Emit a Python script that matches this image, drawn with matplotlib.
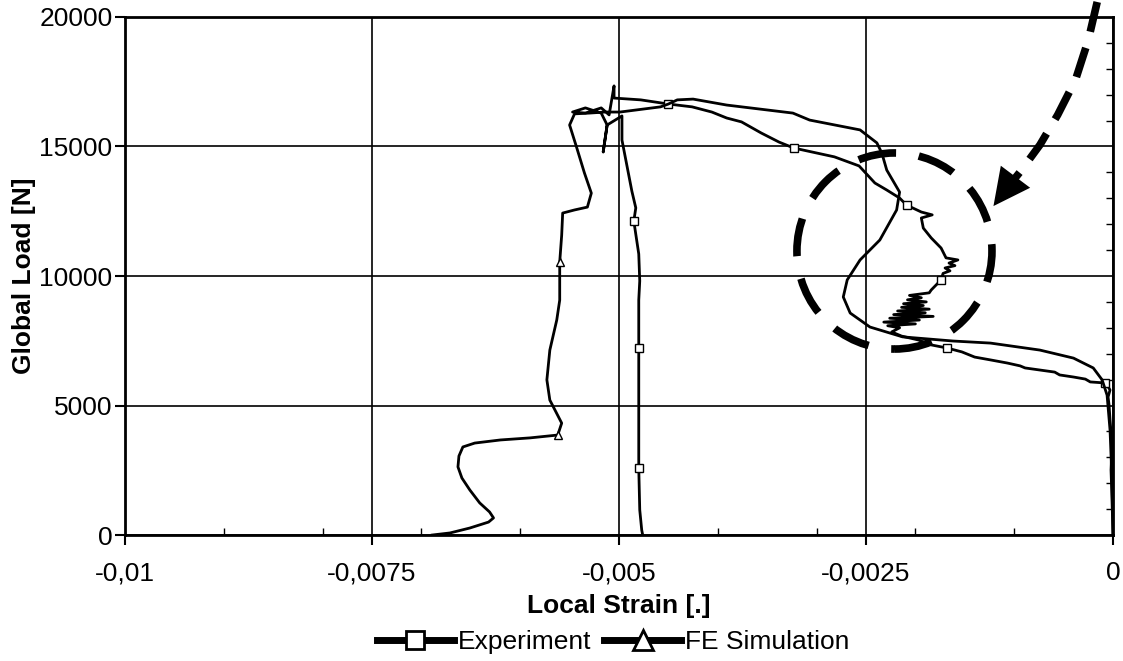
import matplotlib
matplotlib.use("Agg")
import matplotlib.pyplot as plt
from matplotlib.lines import Line2D
from matplotlib.patches import Ellipse
from matplotlib.ticker import MultipleLocator

plt.rcParams['font.family'] = ['Liberation Sans', 'DejaVu Sans']

# experiment: load path (strain, load)
exp_strain = [0.0, -0.00001, -0.00002, -0.00001, -0.00003, -0.00004, -0.00005, -0.00003,
              -0.00006, -0.00008, -0.00023, -0.00028, -0.00040, -0.00054, -0.00059, -0.00074,
              -0.00089, -0.00094, -0.00107, -0.00124, -0.00140, -0.00153, -0.00168, -0.00184,
              -0.00197, -0.00214, -0.00224, -0.00216, -0.00228, -0.00200, -0.00232, -0.00196,
              -0.00226, -0.00182, -0.00222, -0.00190, -0.00218, -0.00186, -0.00214, -0.00192,
              -0.00212, -0.00189, -0.00208, -0.00194, -0.00206, -0.00186, -0.00184, -0.00174,
              -0.00172, -0.00165, -0.00170, -0.00160, -0.00166, -0.00157, -0.00169, -0.00174,
              -0.00184, -0.00192, -0.00194, -0.00183, -0.00194, -0.00209, -0.00216, -0.00229,
              -0.00241, -0.00257, -0.00282, -0.00323, -0.00338, -0.00356, -0.00376, -0.00391,
              -0.00406, -0.00426, -0.00450, -0.00478, -0.00505, -0.00505, -0.00510, -0.00518,
              -0.00534, -0.00547, -0.00534, -0.00518, -0.00512, -0.00516, -0.00512, -0.00497,
              -0.00497, -0.00487, -0.00483, -0.00485, -0.00480, -0.00479, -0.00480, -0.00480,
              -0.00480, -0.00480, -0.00479, -0.00477, -0.00476]
exp_load = [0, 1350, 2510, 3480, 4440, 5020, 5330, 5600,
            5790, 5870, 5910, 6020, 6100, 6180, 6290, 6370,
            6450, 6530, 6640, 6760, 6870, 7070, 7220, 7340,
            7530, 7680, 7840, 8000, 8080, 8150, 8220, 8300,
            8370, 8440, 8510, 8580, 8650, 8720, 8790, 8860,
            8930, 9000, 9080, 9160, 9250, 9350, 9460, 9850,
            10100, 10200, 10310, 10400, 10500, 10620, 10700, 11080,
            11470, 11850, 12240, 12360, 12470, 12740, 13010, 13320,
            13590, 14250, 14600, 14940, 15170, 15520, 15950, 16100,
            16330, 16530, 16640, 16800, 16870, 17340, 16220, 16490,
            16290, 16330, 16490, 16290, 15830, 14790, 15830, 16180,
            15250, 13280, 12630, 12120, 10850, 9810, 9070, 7220,
            5170, 2590, 970, 190, 0]
exp_marks = [9, 22, 47, 61, 67, 74, 91, 95, 97]

# FE simulation
fe_strain = [0.0, -0.00001, -0.00003, -0.00006, -0.00011, -0.00020, -0.00040, -0.00074,
             -0.00124, -0.00162, -0.00213, -0.00246, -0.00266, -0.00273, -0.00269, -0.00256,
             -0.00236, -0.00219, -0.00216, -0.00229, -0.00234, -0.00239, -0.00256, -0.00307,
             -0.00324, -0.00391, -0.00425, -0.00441, -0.00450, -0.00458, -0.00499, -0.00514,
             -0.00530, -0.00545, -0.00550, -0.00543, -0.00535, -0.00528, -0.00532, -0.00545,
             -0.00557, -0.00558, -0.00560, -0.00560, -0.00563, -0.00570, -0.00573, -0.00570,
             -0.00558, -0.00562, -0.00590, -0.00620, -0.00646, -0.00658, -0.00662, -0.00663,
             -0.00659, -0.00651, -0.00641, -0.00631, -0.00627, -0.00632, -0.00651, -0.00671,
             -0.00689]
fe_load = [0, 2120, 4050, 5400, 5990, 6450, 6830, 7140,
           7410, 7490, 7650, 8030, 8570, 9190, 9850, 10620,
           11390, 12550, 13240, 14090, 14750, 15140, 15640, 16020,
           16290, 16600, 16830, 16800, 16640, 16530, 16330, 16330,
           16290, 16260, 15830, 14980, 13980, 13200, 12660, 12550,
           12430, 11580, 10540, 9070, 8300, 7140, 5990, 5210,
           4320, 3860, 3750, 3670, 3550, 3400, 3050, 2630,
           2200, 1740, 1240, 890, 660, 500, 270, 80,
           0]
fe_marks = [42, 49]

x_ticks = [-0.01, -0.0075, -0.005, -0.0025, 0]
x_tick_labels = ['-0,01', '-0,0075', '-0,005', '-0,0025', '0']
y_ticks = [0, 5000, 10000, 15000, 20000]

# annotation: dashed circle and dashed arrow
circle_center = (-0.002212, 10965)
circle_size = (0.001974, 7570)
arrow_x = [-0.00016, -0.00025, -0.00038, -0.00056, -0.00074, -0.00094, -0.00108]
arrow_y = [20580, 19110, 17570, 16220, 15060, 14020, 13360]
arrow_tip = (-0.00121, 12700)


fig = plt.figure(figsize=(11.23, 6.61), dpi=100)
ax = fig.add_axes([0.1113, 0.1906, 0.8798, 0.7837])

ax.plot(exp_strain, exp_load, color='black', lw=2.0, marker='s', markersize=6,
        markerfacecolor='white', markeredgecolor='black', markeredgewidth=1.0,
        markevery=exp_marks, zorder=3)
ax.plot(fe_strain, fe_load, color='black', lw=2.0, marker='^', markersize=6,
        markerfacecolor='white', markeredgecolor='black', markeredgewidth=1.0,
        markevery=fe_marks, zorder=3)

ell = Ellipse(circle_center, circle_size[0], circle_size[1], fill=False,
              edgecolor='black', lw=5.5, linestyle=(0, (5, 3)), zorder=4)
ax.add_patch(ell)

ax.plot(arrow_x, arrow_y, color='black', lw=5.5, linestyle=(0, (4, 2.2)),
        clip_on=False, zorder=4)
ax.annotate('', xy=arrow_tip, xytext=(arrow_x[-1], arrow_y[-1]),
            arrowprops=dict(arrowstyle='-|>,head_length=1.2,head_width=0.6',
                            color='black', lw=0, mutation_scale=22,
                            shrinkA=0, shrinkB=0),
            annotation_clip=False, zorder=4)

ax.set_xlim(-0.01, 0)
ax.set_ylim(0, 20000)
ax.set_xticks(x_ticks)
ax.set_xticklabels(x_tick_labels)
ax.set_yticks(y_ticks)
ax.xaxis.set_minor_locator(MultipleLocator(0.001))
ax.yaxis.set_minor_locator(MultipleLocator(1000))

ax.grid(True, which='major', color='black', lw=1.2)
ax.tick_params(which='major', labelsize=19, length=7, width=1.5, color='black')
ax.tick_params(axis='x', which='major', pad=12)
ax.tick_params(axis='y', which='major', pad=2)
ax.tick_params(axis='x', which='minor', direction='in', length=5, width=1, top=False)
ax.tick_params(axis='y', which='minor', direction='in', length=5, width=1,
               left=False, right=True)

for s in ax.spines.values():
    s.set_linewidth(2)
    s.set_color('black')

ax.set_xlabel('Local Strain [.]', fontsize=19, fontweight='bold', labelpad=6)
ax.set_ylabel('Global Load [N]', fontsize=19, fontweight='bold', labelpad=2)

handles = [
    Line2D([], [], color='black', lw=5, marker='s', markersize=13,
           markerfacecolor='white', markeredgecolor='black', markeredgewidth=2),
    Line2D([], [], color='black', lw=5, marker='^', markersize=14,
           markerfacecolor='white', markeredgecolor='black', markeredgewidth=2),
]
fig.legend(handles, ['Experiment', 'FE Simulation'], loc='center',
           bbox_to_anchor=(0.546, 0.028), ncol=2, frameon=False, fontsize=19,
           handlelength=2.9, handletextpad=0.15, columnspacing=0.5)

fig.savefig('out.png', dpi=100)
